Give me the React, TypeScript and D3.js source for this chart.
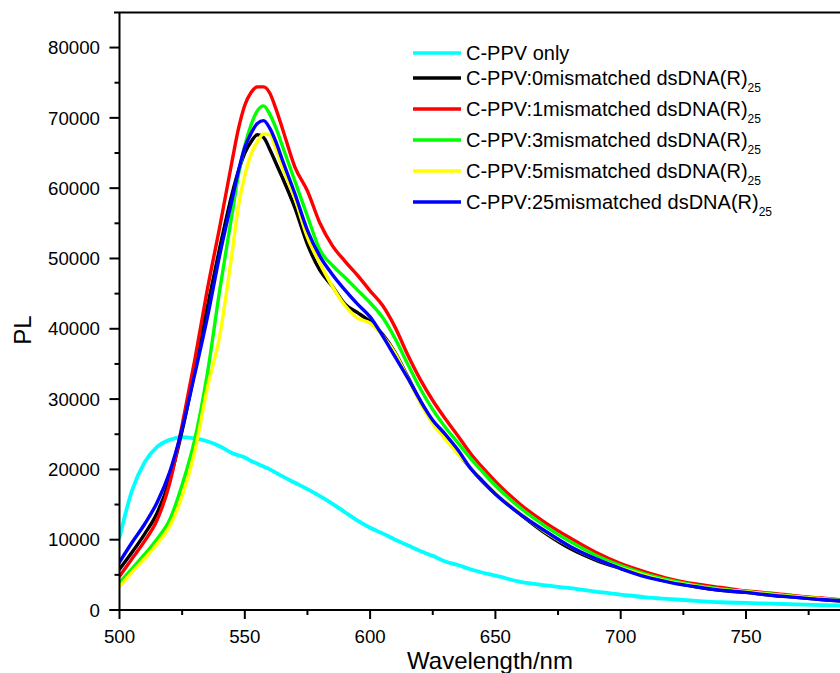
import React from "react";
import * as d3 from "d3";

const wavelengths = [500,505,510,515,520,525,530,535,540,545,547.5,550,552.5,555,557.5,560,562.5,565,570,575,580,585,590,595,600,605,610,615,620,625,630,635,640,645,650,660,670,680,690,700,710,720,730,740,750,760,770,780,790];

const cppvOnly = [10300,17000,21000,23200,24200,24600,24400,24000,23300,22300,22000,21700,21200,20800,20400,20000,19500,19000,18100,17200,16200,15100,13900,12700,11700,10900,10000,9200,8400,7700,6900,6400,5800,5300,4900,4000,3500,3100,2600,2200,1800,1550,1300,1100,1000,900,800,700,650];

const mis0 = [5800,8200,10800,13800,18500,25500,34000,43000,51500,59300,62500,65000,66600,67600,67200,65500,63500,61500,57200,52000,48300,46000,43500,42300,41000,39200,36600,33200,29800,26800,24500,22300,20200,18200,16500,13600,10900,8700,7100,5900,4800,4000,3300,2800,2500,2100,1800,1500,1200];

const mis1 = [4800,7300,9800,12800,18000,26300,35500,45500,54500,64000,68500,71800,73600,74400,74400,73500,71200,68500,63000,59600,55000,51800,49600,47600,45400,43300,40200,36300,32800,29800,27200,24800,22300,20200,18300,15000,12400,10200,8200,6600,5400,4400,3700,3200,2700,2400,2000,1700,1400];

const mis3 = [3900,5900,7900,10100,12800,17800,24200,33500,45500,56500,62000,66000,69000,71000,71700,70500,68500,66000,61000,56000,51200,49000,47300,45500,43700,41600,38600,35000,31500,28500,26000,23800,21600,19600,17700,14500,11900,9700,7800,6300,5100,4200,3500,3000,2600,2300,1900,1600,1400];

const mis5 = [3300,5400,7300,9400,11900,16200,22500,31500,39000,51000,57500,61800,64800,66600,67700,67600,65500,63000,58500,53000,49300,46000,43300,41500,40800,39000,36500,33000,29500,26500,24300,22200,20300,18300,16600,13700,11100,9000,7300,6000,4900,4000,3400,2900,2600,2200,1900,1600,1300];

const mis25 = [6800,9600,12200,15300,19600,25800,33500,41500,50500,58500,62500,65800,67800,69200,69600,68500,66500,64000,59200,54000,50300,47700,45500,43500,41700,39000,36000,33000,29800,27000,25000,22800,20200,18300,16500,13600,11200,9000,7300,5900,4700,3900,3300,2800,2500,2100,1800,1500,1300];

const seriesNames = ["C-PPV only","C-PPV:0mismatched dsDNA(R)","C-PPV:1mismatched dsDNA(R)","C-PPV:3mismatched dsDNA(R)","C-PPV:5mismatched dsDNA(R)","C-PPV:25mismatched dsDNA(R)"];
const seriesSubs = ["","25","25","25","25","25"];
const seriesValues = [cppvOnly, mis0, mis1, mis3, mis5, mis25];
const seriesColors = ["#00FFFF","#000000","#FF0000","#00FF00","#FFFF00","#0000FF"];

const xMajorTicks = [500,550,600,650,700,750,800];
const xMinorTicks = [525,575,625,675,725,775];
const yMajorTicks = [0,10000,20000,30000,40000,50000,60000,70000,80000];
const yMinorTicks = [5000,15000,25000,35000,45000,55000,65000,75000];

const W = 840, H = 673;
const FONT = "'Liberation Sans', Arial, Helvetica, sans-serif";

export default function App() {
  const left = 119.5, top = 12.4, bottom = 610;
  const x = d3.scaleLinear().domain([500, 800]).range([left, left + 300 * 2.506]);
  const y = d3.scaleLinear().domain([0, 85000]).range([bottom, top]);
  const line = d3.line<[number, number]>()
    .x(d => x(d[0]))
    .y(d => y(d[1]))
    .curve(d3.curveMonotoneX);

  const legendX = 413, legendTextX = 466;
  const legendY = (i: number) => (i === 0 ? 53 : 78 + (i - 1) * 31);

  return (
    <svg width={W} height={H} style={{ position: "absolute", left: 0, top: 0, background: "#fff" }} fontFamily={FONT}>
      <rect x={0} y={0} width={W} height={H} fill="#fff" />
      <defs>
        <clipPath id="plotclip">
          <rect x={left} y={top} width={W} height={bottom - top + 4} />
        </clipPath>
      </defs>
      <g clipPath="url(#plotclip)">
        {seriesValues.map((vals, i) => (
          <path key={i}
            d={line(wavelengths.map((w, j) => [w, vals[j]] as [number, number])) || ""}
            fill="none" stroke={seriesColors[i]} strokeWidth={i === 0 ? 3.8 : 3.4}
            strokeLinejoin="round" strokeLinecap="round" />
        ))}
      </g>
      {/* frame */}
      <line x1={114} x2={W} y1={top} y2={top} stroke="#000" strokeWidth={2} />
      <line x1={left} x2={left} y1={top} y2={bottom + 1} stroke="#000" strokeWidth={2} />
      <line x1={left - 10} x2={W} y1={bottom} y2={bottom} stroke="#000" strokeWidth={2} />
      {/* y ticks */}
      {yMajorTicks.map(t => (
        <g key={"ym" + t}>
          <line x1={left - 10} x2={left} y1={y(t)} y2={y(t)} stroke="#000" strokeWidth={2} />
          <text x={100} y={y(t) + 6.7} textAnchor="end" fontSize={18.7} fill="#000">{t}</text>
        </g>
      ))}
      {yMinorTicks.map(t => (
        <line key={"yn" + t} x1={left - 5} x2={left} y1={y(t)} y2={y(t)} stroke="#000" strokeWidth={2} />
      ))}
      {/* x ticks */}
      {xMajorTicks.map(t => (
        <g key={"xm" + t}>
          <line x1={x(t)} x2={x(t)} y1={bottom} y2={bottom + 9} stroke="#000" strokeWidth={2} />
          {x(t) + 20 < W ? (
            <text x={x(t)} y={643} textAnchor="middle" fontSize={18.7} fill="#000">{t}</text>
          ) : null}
        </g>
      ))}
      {xMinorTicks.map(t => (
        <line key={"xn" + t} x1={x(t)} x2={x(t)} y1={bottom} y2={bottom + 5} stroke="#000" strokeWidth={2} />
      ))}
      {/* axis titles */}
      <text x={490} y={669} textAnchor="middle" fontSize={24} fill="#000">Wavelength/nm</text>
      <text transform="translate(31,330) rotate(-90)" textAnchor="middle" fontSize={24} fill="#000">PL</text>
      {/* legend */}
      {seriesNames.map((name, i) => (
        <g key={"lg" + i}>
          <line x1={legendX} x2={legendX + 48} y1={legendY(i)} y2={legendY(i)} stroke={seriesColors[i]} strokeWidth={3.4} />
          <text x={legendTextX} y={legendY(i) + 6.5} fontSize={20} fill="#000">
            {name}
            {seriesSubs[i] ? <tspan fontSize={12} dy={7}>{seriesSubs[i]}</tspan> : null}
          </text>
        </g>
      ))}
    </svg>
  );
}
